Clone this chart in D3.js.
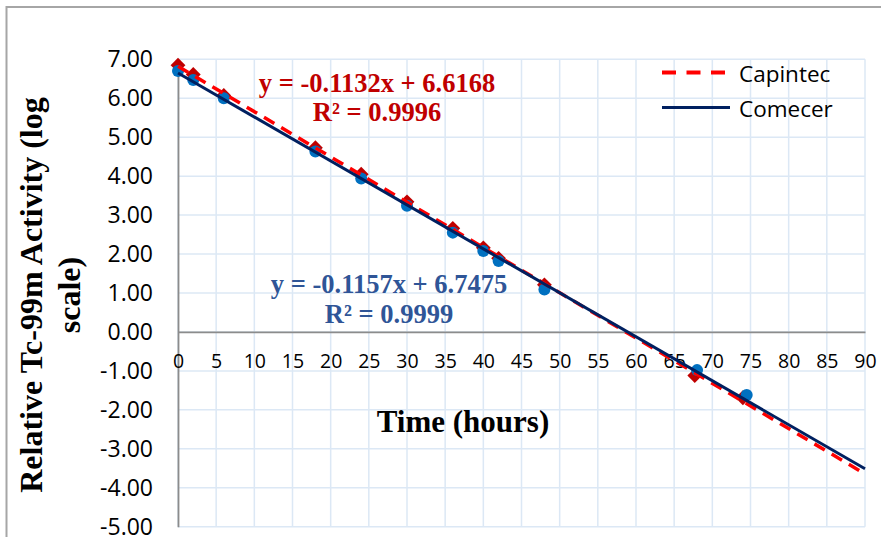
<!DOCTYPE html>
<html>
<head>
<meta charset="utf-8">
<script src="https://cdn.jsdelivr.net/npm/d3@7"></script>
<style>
  body { margin: 0; background: #ffffff; }
  svg { display: block; }
</style>
</head>
<body>
<script>
// datos
var capintecTime = [0, 2, 6, 18, 24, 30, 36, 40, 42, 48, 67.7, 74]
var capintecActivity = [6.85, 6.61, 6.07, 4.73, 4.05, 3.34, 2.66, 2.16, 1.89, 1.21, -1.12, -1.69]
var comecerTime = [0, 2, 6, 18, 24, 30, 36, 40, 42, 48, 68, 74.5]
var comecerActivity = [6.70, 6.47, 6.00, 4.63, 3.94, 3.24, 2.55, 2.08, 1.82, 1.09, -0.98, -1.62]

var xTicks = d3.range(0, 95, 5)
var yTicks = d3.range(7, -6, -1)
var seriesNames = ["Capintec", "Comecer"]
var redEquation = ["y = -0.1132x + 6.6168", "R\u00b2 = 0.9996"]
var blueEquation = ["y = -0.1157x + 6.7475", "R\u00b2 = 0.9999"]

var width = 881
var height = 537
var margin = { top: 59.3, right: 16, bottom: 10.3, left: 178 }

var svg = d3.select("body").append("svg")
    .attr("width", width)
    .attr("height", height)

// borde del grafico
svg.append("rect")
    .attr("x", 6.5).attr("y", 7)
    .attr("width", 900).attr("height", 560)
    .attr("fill", "none")
    .attr("stroke", "#a6a6a6")
    .attr("stroke-width", 2)

var x = d3.scaleLinear().domain([0, 90]).range([margin.left, width - margin.right])
var y = d3.scaleLinear().domain([-5, 7]).range([height - margin.bottom, margin.top])

// rejilla
svg.append("g").selectAll("line")
    .data(xTicks).enter().append("line")
    .attr("x1", d => x(d)).attr("x2", d => x(d))
    .attr("y1", y(7)).attr("y2", y(-5))
    .attr("stroke", "#dce8f5").attr("stroke-width", 1.5)

svg.append("g").selectAll("line")
    .data(yTicks).enter().append("line")
    .attr("x1", x(0)).attr("x2", x(90))
    .attr("y1", d => y(d)).attr("y2", d => y(d))
    .attr("stroke", "#dce8f5").attr("stroke-width", 1.5)

// ejes
var ejeY = d3.axisLeft(y).tickValues(yTicks).tickSize(0).tickPadding(25)
    .tickFormat(d => d.toFixed(2))
svg.append("g")
    .attr("transform", "translate(" + x(0) + ",0)")
    .call(ejeY)
    .call(g => g.select(".domain").attr("stroke", "#8c8c8c").attr("stroke-width", 1.8))
    .selectAll("text")
        .attr("font-family", "'Open Sans', sans-serif")
        .attr("font-size", "23px")
        .attr("fill", "#000")

var ejeX = d3.axisBottom(x).tickValues(xTicks).tickSize(0).tickPadding(22)
svg.append("g")
    .attr("transform", "translate(0," + y(0) + ")")
    .call(ejeX)
    .call(g => g.select(".domain").attr("stroke", "#8c8c8c").attr("stroke-width", 1.8))
    .selectAll("text")
        .attr("font-family", "'Open Sans', sans-serif")
        .attr("font-size", "19.5px")
        .attr("fill", "#000")

// ajuste lineal (linea de tendencia)
function ajuste(xs, ys) {
    var mx = d3.mean(xs), my = d3.mean(ys)
    var sxy = d3.sum(xs, (v, i) => (v - mx) * (ys[i] - my))
    var sxx = d3.sum(xs, v => (v - mx) * (v - mx))
    var m = sxy / sxx
    return { m: m, b: my - m * mx }
}
var ajusteRojo = ajuste(capintecTime, capintecActivity)
var ajusteAzul = ajuste(comecerTime, comecerActivity)

var linea = d3.line().x(d => x(d[0])).y(d => y(d[1]))

// marcadores
var diamante = d3.symbol().type(d3.symbolSquare).size(110)
svg.append("g").selectAll("path")
    .data(capintecTime.map((t, i) => [t, capintecActivity[i]]))
    .enter().append("path")
    .attr("d", diamante)
    .attr("transform", d => "translate(" + x(d[0]) + "," + y(d[1]) + ") rotate(45)")
    .attr("fill", "#c00000")

svg.append("g").selectAll("circle")
    .data(comecerTime.map((t, i) => [t, comecerActivity[i]]))
    .enter().append("circle")
    .attr("cx", d => x(d[0]))
    .attr("cy", d => y(d[1]))
    .attr("r", 6)
    .attr("fill", "#0070c0")

// lineas de tendencia
svg.append("path")
    .datum([0, 90].map(t => [t, ajusteRojo.m * t + ajusteRojo.b]))
    .attr("d", linea)
    .attr("fill", "none")
    .attr("stroke", "#ff0000")
    .attr("stroke-width", 3.5)
    .attr("stroke-dasharray", "12,8")

svg.append("path")
    .datum([0, 90].map(t => [t, ajusteAzul.m * t + ajusteAzul.b]))
    .attr("d", linea)
    .attr("fill", "none")
    .attr("stroke", "#002060")
    .attr("stroke-width", 3)

// ecuaciones
svg.append("g").selectAll("text")
    .data(redEquation).enter().append("text")
    .attr("x", 377)
    .attr("y", (d, i) => 92 + i * 29)
    .attr("text-anchor", "middle")
    .attr("font-family", "'Liberation Serif', 'Times New Roman', serif")
    .attr("font-weight", "bold")
    .attr("font-size", "26.5px")
    .attr("fill", "#c00000")
    .text(d => d)

svg.append("g").selectAll("text")
    .data(blueEquation).enter().append("text")
    .attr("x", 389)
    .attr("y", (d, i) => 293 + i * 30)
    .attr("text-anchor", "middle")
    .attr("font-family", "'Liberation Serif', 'Times New Roman', serif")
    .attr("font-weight", "bold")
    .attr("font-size", "26.5px")
    .attr("fill", "#2f5597")
    .text(d => d)

// leyenda
var leyenda = svg.append("g").selectAll("g")
    .data(seriesNames).enter().append("g")
    .attr("transform", (d, i) => "translate(662," + (72.5 + i * 35) + ")")

leyenda.append("line")
    .attr("x1", 0).attr("x2", 68)
    .attr("stroke", (d, i) => i == 0 ? "#ff0000" : "#002060")
    .attr("stroke-width", (d, i) => i == 0 ? 4 : 3)
    .attr("stroke-dasharray", (d, i) => i == 0 ? "14,10.5" : null)

leyenda.append("text")
    .attr("x", 77)
    .attr("y", 9)
    .attr("font-family", "'Open Sans', sans-serif")
    .attr("font-size", "22.5px")
    .attr("fill", "#000")
    .text(d => d)

// titulos de los ejes
svg.append("text")
    .attr("x", 463)
    .attr("y", 432)
    .attr("text-anchor", "middle")
    .attr("font-family", "'Liberation Serif', 'Times New Roman', serif")
    .attr("font-weight", "bold")
    .attr("font-size", "31px")
    .text("Time (hours)")

var tituloY = ["Relative Tc-99m Activity (log", "scale)"]
svg.append("g").selectAll("text")
    .data(tituloY).enter().append("text")
    .attr("transform", (d, i) => "translate(" + (42 + i * 38) + ",295) rotate(-90)")
    .attr("text-anchor", "middle")
    .attr("font-family", "'Liberation Serif', 'Times New Roman', serif")
    .attr("font-weight", "bold")
    .attr("font-size", "32px")
    .text(d => d)
</script>
</body>
</html>
